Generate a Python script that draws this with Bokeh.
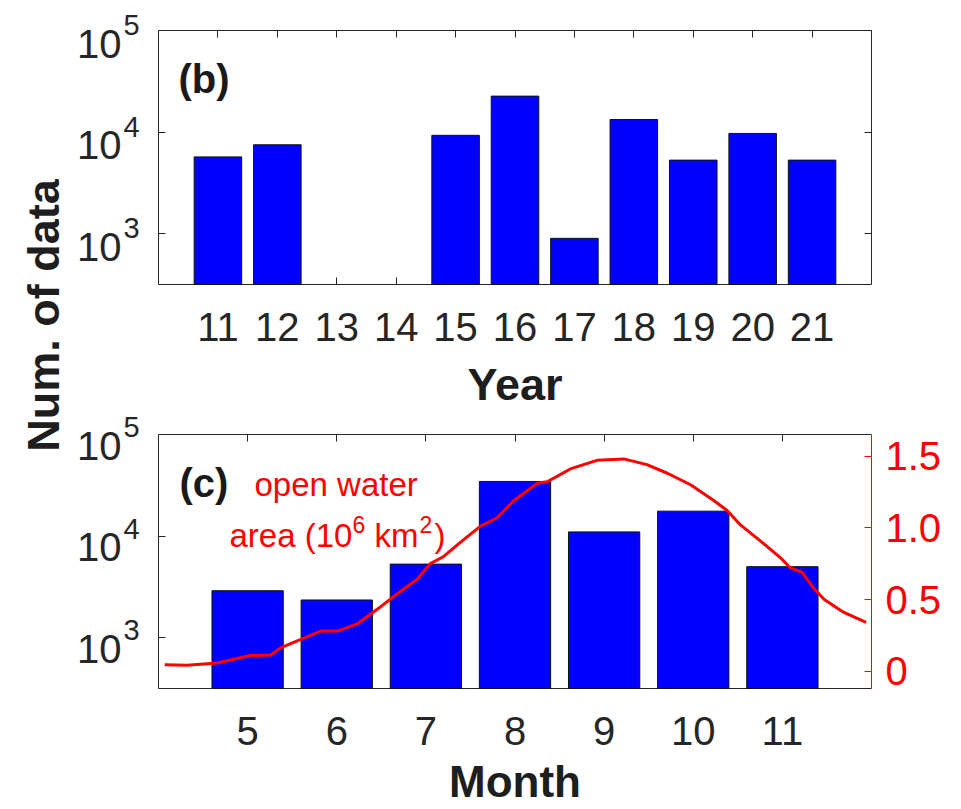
import math
from bokeh.plotting import figure
from bokeh.models import FixedTicker, LinearAxis, LogAxis, Range1d, Label, LinearScale
from bokeh.layouts import row, column
from bokeh.embed import file_html
from bokeh.resources import INLINE

# ---------------- data ----------------
years = [11, 12, 13, 14, 15, 16, 17, 18, 19, 20, 21]
year_counts = [5700, 7500, 0, 0, 9300, 22600, 900, 13300, 5300, 9700, 5300]

months = [5, 6, 7, 8, 9, 10, 11]
month_counts = [2900, 2350, 5300, 34500, 11000, 17600, 5000]

area_month = [4.07, 4.32, 4.66, 5.03, 5.26, 5.37, 5.59, 5.82, 6.01, 6.23, 6.45,
              6.68, 6.90, 7.05, 7.20, 7.39, 7.61, 7.80, 7.99, 8.25, 8.36, 8.62,
              8.92, 9.22, 9.48, 9.71, 9.97, 10.23, 10.38, 10.53, 10.79, 10.98,
              11.09, 11.22, 11.35, 11.47, 11.69, 11.94]
area_value = [0.046, 0.042, 0.058, 0.11, 0.114, 0.163, 0.22, 0.28, 0.28, 0.33, 0.43,
              0.54, 0.64, 0.75, 0.80, 0.90, 1.01, 1.07, 1.19, 1.31, 1.32, 1.41,
              1.47, 1.48, 1.44, 1.38, 1.30, 1.19, 1.12, 1.02, 0.89, 0.79,
              0.72, 0.69, 0.58, 0.50, 0.41, 0.34]

count_ticks = [1e3, 1e4, 1e5]
count_exps = ["3", "4", "5"]
area_ticks = [0, 0.5, 1.0, 1.5]
area_tick_labels = ["0", "0.5", "1.0", "1.5"]

FONT = "Liberation Sans"
INK = "#262626"
BAR_W = 0.8
LOG_LO, LOG_HI = 2.5, 5.0
FRAME_W, FRAME_H = 713, 254
TICKCOL_W = 76          # width of the strip that holds the y tick labels
LEFT_W = 70             # width of the strip that holds the shared y label
BASE_FIX = 0.25         # alphabetic-baseline correction (fraction of font size)


def lab(x, y, text, xo, yo, size, color=INK, bold=False, align="left"):
    return Label(x=x, y=y, text=text, x_offset=xo, y_offset=yo + BASE_FIX * size,
                 text_align=align, text_baseline="alphabetic", text_font=FONT,
                 text_font_size=f"{size}px", text_color=color,
                 text_font_style="bold" if bold else "normal")


def style_panel(p, x_ticks, x_label, label_standoff, label_size):
    p.grid.visible = False
    p.outline_line_color = None
    xa = p.xaxis[0]
    xa.ticker = FixedTicker(ticks=x_ticks)
    xa.major_label_text_font = FONT
    xa.major_label_text_font_size = "40px"
    xa.major_label_text_color = INK
    xa.major_tick_in = 7
    xa.major_tick_out = 0
    xa.minor_tick_line_color = None
    xa.axis_line_color = INK
    xa.major_tick_line_color = INK
    xa.major_label_standoff = 28
    xa.axis_label = x_label
    xa.axis_label_text_font = FONT
    xa.axis_label_text_font_size = f"{label_size}px"
    xa.axis_label_text_font_style = "bold"
    xa.axis_label_text_color = "#1e1e1e"
    xa.axis_label_standoff = label_standoff

    ya = p.yaxis[0]
    ya.ticker = FixedTicker(ticks=count_ticks)
    ya.major_label_overrides = {int(t): "" for t in count_ticks}
    ya.major_label_text_font_size = "1px"
    ya.major_label_standoff = 0
    ya.major_tick_in = 7
    ya.major_tick_out = 0
    ya.minor_tick_line_color = None
    ya.axis_line_color = INK
    ya.major_tick_line_color = INK

    top = LinearAxis(ticker=FixedTicker(ticks=x_ticks),
                     major_label_overrides={t: "" for t in x_ticks},
                     major_tick_in=7, major_tick_out=0, major_label_standoff=0,
                     major_label_text_font_size="1px",
                     minor_tick_line_color=None, axis_line_color=INK,
                     major_tick_line_color=INK)
    p.add_layout(top, "above")


def tick_strip(border_top, border_bottom):
    # strip left of a panel; its log scale continues the panel's scale
    per_px = (LOG_HI - LOG_LO) / FRAME_H
    lo = LOG_LO - border_bottom * per_px
    hi = LOG_HI + border_top * per_px
    s = figure(width=TICKCOL_W, height=border_top + FRAME_H + border_bottom,
               x_range=Range1d(0, TICKCOL_W), y_range=Range1d(10 ** lo, 10 ** hi),
               y_axis_type="log", output_backend="svg", toolbar_location=None,
               min_border=0, x_axis_location=None, y_axis_location=None)
    s.grid.visible = False
    s.outline_line_color = None
    for t, e in zip(count_ticks, count_exps):
        s.add_layout(lab(TICKCOL_W, t, "10", -25, -23, 40, align="right"))
        s.add_layout(lab(TICKCOL_W, t, e, -23, -2, 29))
    return s


BORDER_L = 158 - LEFT_W - TICKCOL_W

# ---------------- panel (b) ----------------
p1 = figure(frame_width=FRAME_W, frame_height=FRAME_H, x_range=Range1d(10, 22),
            y_range=Range1d(10 ** LOG_LO, 10 ** LOG_HI), y_axis_type="log",
            output_backend="svg", toolbar_location=None,
            min_border_left=BORDER_L, min_border_right=90, min_border_top=30,
            min_border_bottom=126)
style_panel(p1, years, "Year", 15, 45)
right1 = LogAxis(ticker=FixedTicker(ticks=count_ticks),
                 major_label_overrides={int(t): "" for t in count_ticks},
                 major_tick_in=7, major_tick_out=0, major_label_standoff=0,
                 major_label_text_font_size="1px",
                 minor_tick_line_color=None, axis_line_color=INK,
                 major_tick_line_color=INK)
p1.add_layout(right1, "right")

yb_x = [y for y, c in zip(years, year_counts) if c > 0]
yb_top = [c for c in year_counts if c > 0]
p1.vbar(x=yb_x, top=yb_top, bottom=1, width=BAR_W, fill_color="#0000ff",
        line_color="#111111", line_width=1, level="annotation")
p1.add_layout(lab(10, 1e5, "(b)", 20, -58, 40, color="#1a1a1a", bold=True))

# ---------------- panel (c) ----------------
p2 = figure(frame_width=FRAME_W, frame_height=FRAME_H, x_range=Range1d(4, 12),
            y_range=Range1d(10 ** LOG_LO, 10 ** LOG_HI), y_axis_type="log",
            output_backend="svg", toolbar_location=None,
            min_border_left=BORDER_L, min_border_right=90, min_border_top=22,
            min_border_bottom=123)
style_panel(p2, months, "Month", 9, 44)
p2.extra_y_ranges = {"area": Range1d(-0.12, 1.65)}
p2.extra_y_scales = {"area": LinearScale()}
right2 = LinearAxis(y_range_name="area", ticker=FixedTicker(ticks=area_ticks),
                    major_label_overrides=dict(zip(area_ticks, area_tick_labels)),
                    major_tick_in=7, major_tick_out=0, major_label_standoff=14,
                    major_label_text_font=FONT, major_label_text_font_size="40px",
                    major_label_text_color="#ff0000",
                    minor_tick_line_color=None, axis_line_color="#ff0000",
                    major_tick_line_color="#ff0000")
p2.add_layout(right2, "right")

p2.vbar(x=months, top=month_counts, bottom=1, width=BAR_W, fill_color="#0000ff",
        line_color="#111111", line_width=1, level="annotation")
p2.line(area_month, area_value, y_range_name="area", line_color="#ff0000",
        line_width=3, level="overlay")

p2.add_layout(lab(4, 1e5, "(c)", 21, -58, 40, color="#1a1a1a", bold=True))
for txt, xo, yo, fs in [("open water", 96, -58, 33),
                        ("area (10", 71, -109, 33),
                        ("6", 194, -96, 23),
                        ("km", 216, -109, 33),
                        ("2", 261, -96, 23),
                        (")", 276, -109, 33)]:
    p2.add_layout(lab(4, 1e5, txt, xo, yo, fs, color="#ff0000"))

# ---------------- shared y label ----------------
pl = figure(width=LEFT_W, height=809, x_range=Range1d(0, LEFT_W), y_range=Range1d(0, 809),
            output_backend="svg", toolbar_location=None, min_border=0,
            x_axis_location=None, y_axis_location=None)
pl.grid.visible = False
pl.outline_line_color = None
pl.add_layout(Label(x=43, y=809 - 315, text="Num. of data", angle=math.pi / 2,
                    text_align="center", text_baseline="middle",
                    text_font=FONT, text_font_size="45px", text_font_style="bold",
                    text_color="#1e1e1e"))

layout = row(pl, column(tick_strip(30, 126), tick_strip(22, 123)), column(p1, p2))
open("out.html", "w").write(file_html(layout, INLINE))
